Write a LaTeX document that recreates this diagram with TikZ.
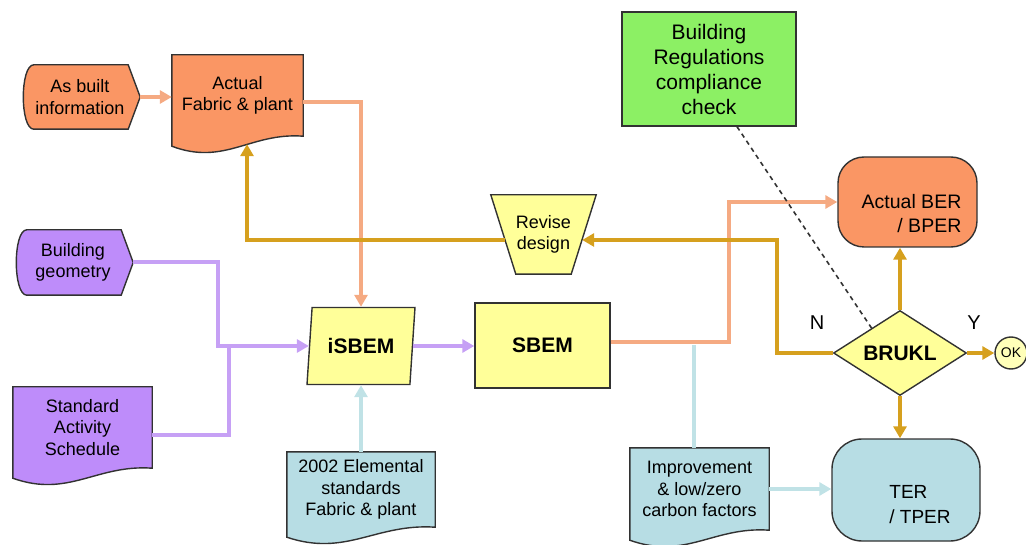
\documentclass[tikz,border=0pt]{standalone}
\usepackage{fontspec}
\setmainfont{Liberation Sans}
\usetikzlibrary{shapes.geometric,calc,backgrounds,arrows.meta}

\definecolor{orfill}{RGB}{250,150,100}
\definecolor{orline}{RGB}{245,170,130}
\definecolor{pufill}{RGB}{190,140,250}
\definecolor{puline}{RGB}{198,160,245}
\definecolor{yefill}{RGB}{255,255,153}
\definecolor{okfill}{RGB}{255,255,185}
\definecolor{blfill}{RGB}{183,221,228}
\definecolor{blline}{RGB}{192,226,230}
\definecolor{grfill}{RGB}{140,240,100}
\definecolor{goline}{RGB}{214,160,30}
\definecolor{edge}{RGB}{50,50,50}

\newcommand{\heavy}{\fontsize{21}{21}\selectfont\bfseries}
% wavy-bottom document box round a node
\newcommand{\docshape}[2]{%
  \filldraw[box,fill=#2] (#1.north west) -- (#1.north east) -- (#1.south east)
    .. controls ($(#1.south west)!0.6!(#1.south east)+(0,-4)$) and ($(#1.south west)!0.4!(#1.south east)+(0,30)$) .. ($(#1.south west)+(0,10)$) -- cycle;}
% curved left, pointed right
\newcommand{\dispshape}[2]{%
  \filldraw[box,fill=#2] ([xshift=14pt]#1.north west) -- ([xshift=-12pt]#1.north east) -- (#1.east)
    -- ([xshift=-12pt]#1.south east) -- ([xshift=14pt]#1.south west)
    .. controls (#1.south west) and (#1.north west) .. ([xshift=14pt]#1.north west) -- cycle;}
% wide at the top
\newcommand{\funnelshape}[2]{%
  \filldraw[box,fill=#2] (#1.north west) -- (#1.north east) -- ([xshift=-25pt]#1.south east) -- ([xshift=25pt]#1.south west) -- cycle;}

\begin{document}
\begin{tikzpicture}[x=1pt,y=-1pt,
  font=\fontsize{18}{21.5}\selectfont,
  box/.style={draw=edge,line width=1.4pt},
  txt/.style={align=center,inner sep=0pt},
  orangeflow/.style={draw=orline,line width=4pt},
  purpleflow/.style={draw=puline,line width=4pt},
  goldflow/.style={draw=goline,line width=4.5pt},
  blueflow/.style={draw=blline,line width=4pt},
  >={Triangle[length=12pt,width=13pt]}]
  \useasboundingbox (0,0) rectangle (1026,545);

  % inputs
  \node[txt,minimum width=120pt,minimum height=64pt] (asbuilt) at (80,97) {As built\\information};
  \node[txt,minimum width=131pt,minimum height=81pt] (actual) at (237.5,95.5) {Actual\\Fabric \& plant};
  \node[txt,minimum width=120pt,minimum height=65pt] (geometry) at (73,262.5) {Building\\geometry};
  \node[txt,minimum width=139pt,minimum height=81pt] (schedule) at (82.5,427.5) {Standard\\Activity\\Schedule};
  \node[txt,minimum width=148pt,minimum height=75pt] (elem) at (361,489.5) {2002 Elemental\\standards\\Fabric \& plant};
  \node[txt,minimum width=139pt,minimum height=82pt] (improve) at (699.5,489) {Improvement\\\& low/zero\\carbon factors};

  % processes
  \node[box,fill=yefill,trapezium,trapezium left angle=77,trapezium right angle=103,trapezium stretches body,
    minimum width=108pt,minimum height=77pt,font=\heavy] (isbem) at (361,346) {iSBEM};
  \node[box,fill=yefill,minimum width=135pt,minimum height=85pt,font=\heavy] (sbem) at (542.5,345.5) {SBEM};
  \node[txt,minimum width=105pt,minimum height=79pt] (revise) at (543.5,234.5) {Revise\\design};
  \node[box,fill=grfill,minimum width=174pt,minimum height=114pt,align=center,
    font=\fontsize{21}{25}\selectfont] (bregs) at (709,69) {Building\\Regulations\\compliance\\check};

  % results
  \node[box,fill=orfill,rounded corners=26pt,minimum width=139pt,minimum height=90pt,
    label={[align=right,xshift=4pt,yshift=-12pt,font=\fontsize{19.5}{24}\selectfont]center:{Actual BER\\/ BPER}}] (actualber) at (907.5,202) {};
  \node[box,fill=yefill,diamond,aspect=1.56,minimum width=133pt,minimum height=85pt,inner sep=0pt,font=\heavy] (brukl) at (900,353) {BRUKL};
  \node[box,fill=okfill,circle,minimum size=32pt,inner sep=0pt,font=\fontsize{14}{14}\selectfont] (ok) at (1011,353) {OK};
  \node[box,fill=blfill,rounded corners=30pt,minimum width=148pt,minimum height=102pt,
    label={[align=left,xshift=14pt,yshift=-15pt,font=\fontsize{19}{25}\selectfont]center:{TER\\/ TPER}}] (ter) at (906,490) {};
  \node[font=\fontsize{20}{20}\selectfont] (nlab) at (817,323) {N};
  \node[font=\fontsize{20}{20}\selectfont] (ylab) at (974,323) {Y};

  \begin{scope}[on background layer]
    \dispshape{asbuilt}{orfill}
    \docshape{actual}{orfill}
    \dispshape{geometry}{pufill}
    \docshape{schedule}{pufill}
    \docshape{elem}{blfill}
    \docshape{improve}{blfill}
    \funnelshape{revise}{yefill}
  \end{scope}

  % flows
  \draw[orangeflow,->] (asbuilt.east) -- (asbuilt.east -| actual.west);
  \draw[orangeflow,->] ([yshift=-7pt]actual.east) -| (isbem.center |- isbem.north);
  \draw[purpleflow,->] (geometry.east) -- ++(85,0) |- (isbem.west);
  \draw[purpleflow] ([yshift=-7pt]schedule.east) -- ++(77,0) -- ++(0,-88.5);
  \draw[blueflow,->] (elem.north) -- (elem.north |- isbem.south);
  \draw[purpleflow,->] (isbem.east) -- (isbem.east -| sbem.west);
  \draw[blueflow] ([xshift=-6pt]improve.north) -- ++(0,-103);
  \draw[orangeflow,->] ([yshift=3pt]sbem.east) -- ++(118,0) |- (actualber.west);
  \draw[blueflow,->] (improve.east) -- (improve.east -| ter.west);
  \draw[goldflow,->] (brukl.west) -- ++(-56,0) |- ([xshift=-14pt,yshift=-5.5pt]revise.east);
  \draw[goldflow,->] ([xshift=14pt,yshift=-5.5pt]revise.west) -| ([xshift=9.5pt,yshift=-8pt]actual.south);
  \draw[goldflow,->] (brukl.north) -- (brukl.north |- actualber.south);
  \draw[goldflow,->] (brukl.south) -- (brukl.south |- ter.north);
  \draw[goldflow,->] (brukl.east) -- (ok.west);
  \draw[draw=edge,line width=1.6pt,dash pattern=on 4.5pt off 4pt] ([xshift=28pt]bregs.south) -- ([xshift=6pt,yshift=2pt]brukl.north west);
\end{tikzpicture}
\end{document}
